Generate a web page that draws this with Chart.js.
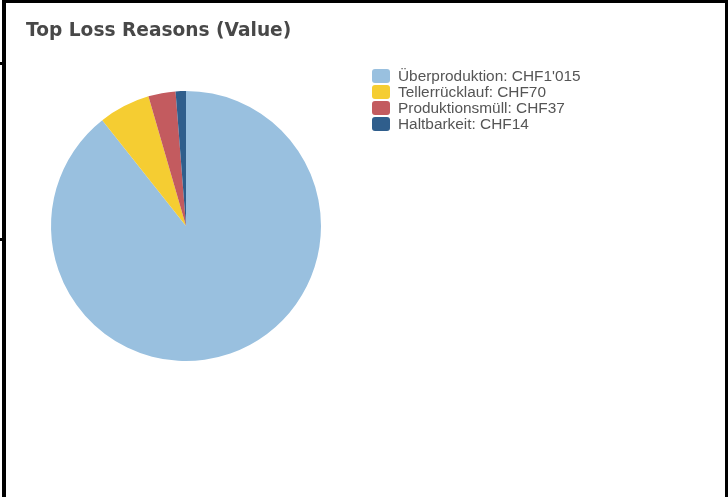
<!DOCTYPE html>
<html>
<head>
<meta charset="utf-8">
<script src="https://cdn.jsdelivr.net/npm/chart.js@4"></script>
<style>
  html, body { margin:0; padding:0; background:#fff; }
  #frame { position:absolute; left:2px; top:0; width:726px; height:497px;
           border-top:3px solid #000; border-left:4px solid #000; border-right:3px solid #000; box-sizing:border-box; }
  .tick { position:absolute; left:0; width:3px; height:3px; background:#000; }
  #wrap { position:absolute; left:8px; top:4px; width:716px; height:493px; }
</style>
</head>
<body>
<div id="frame"></div>
<div class="tick" style="top:62px"></div>
<div class="tick" style="top:238px"></div>
<div id="wrap"><canvas id="lossChart"></canvas></div>
<script>
// data
const reasons = ["Überproduktion", "Tellerrücklauf", "Produktionsmüll", "Haltbarkeit"];
const values = [1015, 70, 37, 14];
const valueLabels = ["CHF1'015", "CHF70", "CHF37", "CHF14"];
const colors = ["#99c0df", "#f5cd32", "#c35b5f", "#2f5e8c"];

// legend drawn at top right of the widget
const sideLegend = {
  id: "sideLegend",
  afterDraw(chart) {
    const ctx = chart.ctx;
    ctx.save();
    ctx.font = "15.4px 'Liberation Sans', Arial, sans-serif";
    ctx.textBaseline = "middle";
    reasons.forEach((r, i) => {
      const y = 72 + i * 16;
      ctx.fillStyle = colors[i];
      ctx.beginPath();
      ctx.roundRect(364, y - 7, 18, 14, 3);
      ctx.fill();
      ctx.fillStyle = "#555";
      ctx.fillText(r + ": " + valueLabels[i], 390, y + 1);
    });
    ctx.restore();
  }
};

const ctx = document.getElementById("lossChart").getContext("2d");
new Chart(ctx, {
  type: "pie",
  data: {
    labels: reasons,
    datasets: [{ data: values, backgroundColor: colors, borderWidth: 0 }]
  },
  options: {
    responsive: true,
    maintainAspectRatio: false,
    animation: false,
    layout: { padding: { left: 18, right: 378, top: 0, bottom: 136 } },
    plugins: {
      legend: { display: false },
      tooltip: { enabled: false },
      title: {
        display: true, text: "Top Loss Reasons (Value)", align: "start",
        color: "#484848",
        font: { family: "'DejaVu Sans', Verdana, sans-serif", size: 18.6, weight: "bold", lineHeight: 1.2 },
        padding: { top: 16, bottom: 48.7 }
      }
    }
  },
  plugins: [sideLegend]
});
</script>
</body>
</html>
